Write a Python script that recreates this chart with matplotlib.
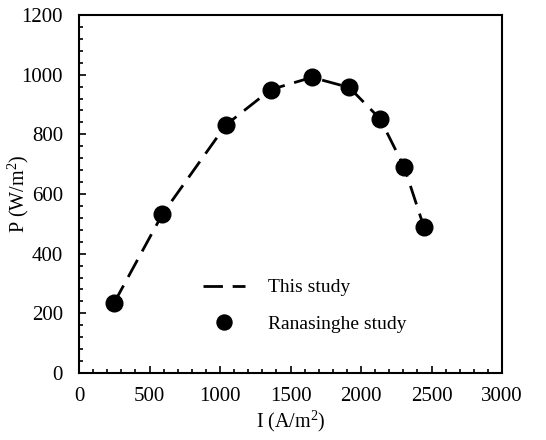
import matplotlib.pyplot as plt
from matplotlib.ticker import MultipleLocator

# current density (A/m2) and power density (W/m2)
current = [250, 591, 1043, 1360, 1652, 1917, 2135, 2307, 2447]
power_model = [236, 532, 832, 950, 991, 957, 852, 690, 488]
power_ref = [236, 532, 832, 950, 991, 957, 852, 690, 488]

plt.rcParams['font.family'] = ['Liberation Serif', 'DejaVu Serif']
plt.rcParams['mathtext.fontset'] = 'custom'
plt.rcParams['mathtext.rm'] = 'Liberation Serif'

fig = plt.figure(figsize=(5.46, 4.4), dpi=100)
ax = fig.add_axes([79 / 546, 1 - 373 / 440, 423 / 546, 358 / 440])

ax.plot(current, power_model, color='black', linestyle=(0, (7, 3.5)),
        linewidth=2, label='This study')
ax.plot(current, power_ref, linestyle='none', marker='o', markersize=12,
        color='black', label='Ranasinghe study')

ax.set_xlim(0, 3000)
ax.set_ylim(0, 1200)
ax.xaxis.set_major_locator(MultipleLocator(500))
ax.xaxis.set_minor_locator(MultipleLocator(100))
ax.yaxis.set_major_locator(MultipleLocator(200))
ax.yaxis.set_minor_locator(MultipleLocator(40))
ax.tick_params(which='both', direction='in', labelsize=15, width=1.2)
ax.tick_params(which='major', length=5)
ax.tick_params(axis='y', which='major', pad=11.5)
ax.tick_params(axis='x', which='major', pad=10)
ax.tick_params(which='minor', length=3)
for s in ax.spines.values():
    s.set_linewidth(1.5)

ax.set_xlabel('I (A/m$\\mathrm{^2}$)', fontsize=14.5)
ax.set_ylabel('P (W/m$\\mathrm{^2}$)', fontsize=14.5)
ax.xaxis.set_label_coords(0.5, -0.1)
ax.yaxis.set_label_coords(-0.113, 0.5)

ax.legend(loc='lower left', bbox_to_anchor=(0.251, 0.064), frameon=False,
          fontsize=14, handlelength=2.16, handletextpad=1.2,
          labelspacing=0.96, markerscale=0.9)

fig.savefig('out.png', dpi=100)
